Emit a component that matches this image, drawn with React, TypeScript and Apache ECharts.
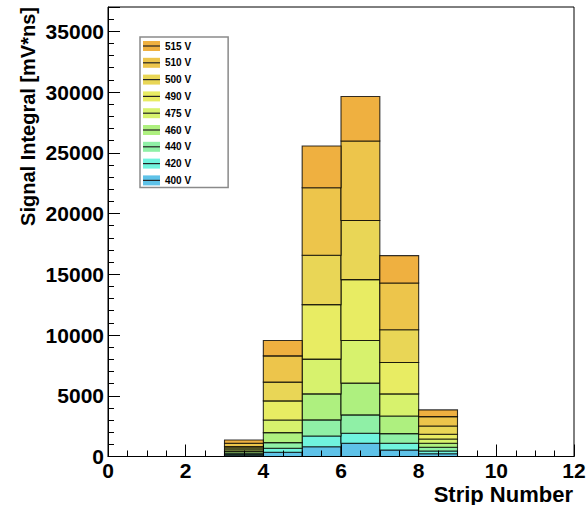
import React, { useEffect, useRef } from 'react';
import * as echarts from 'echarts';

// Histogram bins (strip number low edges), width 1
const binStarts = [3, 4, 5, 6, 7, 8];
const binWidth = 1;

// Series (stacked from bottom to top)
const voltages = ['400 V', '420 V', '440 V', '460 V', '475 V', '490 V', '500 V', '510 V', '515 V'];
const v400 = [100, 346, 808, 1089, 536, 231];
const v420 = [80, 330, 883, 825, 552, 222];
const v440 = [110, 462, 1320, 1510, 792, 306];
const v460 = [130, 824, 2145, 2615, 1459, 329];
const v475 = [140, 1047, 2863, 3515, 1814, 355];
const v490 = [140, 1567, 4480, 5007, 2581, 387];
const v500 = [110, 1542, 4067, 4868, 2696, 685];
const v510 = [280, 2168, 5561, 6542, 3850, 766];
const v515 = [270, 1262, 3432, 3663, 2251, 553];

const xTitle = 'Strip Number';
const yTitle = 'Signal Integral [mV*ns]';

const colors = ['#5ec2e8', '#70f4de', '#8ff0a6', '#aef07f', '#d7f26d', '#e8ec63', '#e9d656', '#edc54b', '#efb040'];

const FONT = 'Liberation Sans, Arial, Helvetica, sans-serif';

export default function App() {
  const ref = useRef<HTMLDivElement>(null);
  useEffect(() => {
    document.body.style.margin = '0';
    const chart = echarts.init(ref.current as HTMLDivElement, null, { renderer: 'svg' });
    const layers = [v400, v420, v440, v460, v475, v490, v500, v510, v515];
    const cum = binStarts.map(() => 0);
    const series = layers.map((vals, i) => {
      const data = vals.map((v, j) => {
        const lo = cum[j];
        cum[j] += v;
        return [binStarts[j], binStarts[j] + binWidth, lo, cum[j]];
      });
      return {
        type: 'custom',
        name: voltages[i],
        data,
        encode: { x: [0, 1], y: [2, 3] },
        itemStyle: { color: colors[i] },
        z: 2,
        renderItem: (params: any, api: any) => {
          const p0 = api.coord([api.value(0), api.value(2)]);
          const p1 = api.coord([api.value(1), api.value(3)]);
          return {
            type: 'rect',
            shape: { x: p0[0], y: p1[1], width: p1[0] - p0[0], height: p0[1] - p1[1] },
            style: { fill: api.visual('color'), stroke: 'rgba(0,0,0,0.8)', lineWidth: 1.1 },
          };
        },
      };
    });

    const legendTop = 37;
    const legendPadTop = 4;
    const itemH = 10;
    const itemGap = 6.8;
    const legendLines: any[] = voltages.map((_, i) => {
      const cy = legendTop + legendPadTop + i * (itemH + itemGap) + itemH / 2;
      return {
        type: 'line',
        z: 100,
        shape: { x1: 143, y1: cy, x2: 160, y2: cy },
        style: { stroke: '#222', lineWidth: 1.2 },
      };
    });

    const axisCommon = {
      axisLine: { show: true, lineStyle: { color: '#000', width: 1 } },
      axisTick: { show: true, inside: true, length: 12, lineStyle: { color: '#000', width: 1 } },
      minorTick: { show: true, length: 6, lineStyle: { color: '#000', width: 1 } },
      splitLine: { show: false },
      minorSplitLine: { show: false },
      axisLabel: { color: '#000', fontSize: 21, fontWeight: 'bold', fontFamily: FONT, formatter: (v: number) => String(v) },
      z: 5,
    };

    chart.setOption({
      animation: false,
      backgroundColor: '#fff',
      grid: {
        left: 108, right: 13, top: 7, bottom: 48.5,
        show: true, borderColor: '#000', borderWidth: 1, backgroundColor: 'transparent',
        outerBoundsMode: 'none',
      },
      legend: {
        orient: 'vertical',
        left: 140,
        top: legendTop,
        padding: [legendPadTop, 37, 2, 3],
        itemWidth: 17,
        itemHeight: itemH,
        itemGap: itemGap,
        icon: 'rect',
        backgroundColor: '#fff',
        borderColor: '#8a8a8a',
        borderWidth: 1.5,
        textStyle: { color: '#000', fontSize: 10, fontWeight: 'bold', fontFamily: FONT, lineHeight: 10 },
        itemStyle: { borderWidth: 0 },
        data: voltages.slice().reverse(),
        selectedMode: false,
      },
      xAxis: {
        ...axisCommon,
        type: 'value',
        min: 0,
        max: 12,
        interval: 2,
        minorTick: { ...axisCommon.minorTick, splitNumber: 4 },
        axisLabel: { ...axisCommon.axisLabel, margin: 3 },
      },
      yAxis: {
        ...axisCommon,
        type: 'value',
        min: 0,
        max: 37000,
        interval: 5000,
        minorTick: { ...axisCommon.minorTick, splitNumber: 5 },
        axisLabel: { ...axisCommon.axisLabel, margin: 4, showMaxLabel: false },
      },
      series,
      graphic: [
        ...legendLines,
        {
          type: 'text',
          x: 573,
          y: 494,
          style: { text: xTitle, fill: '#000', font: `bold 22px ${FONT}`, align: 'right', verticalAlign: 'middle' },
        },
        {
          type: 'text',
          x: 28,
          y: 7,
          rotation: Math.PI / 2,
          style: { text: yTitle, fill: '#000', font: `bold 20px ${FONT}`, align: 'right', verticalAlign: 'middle' },
        },
      ],
    });
    return () => chart.dispose();
  }, []);
  return <div ref={ref} style={{ width: 587, height: 505 }} />;
}
